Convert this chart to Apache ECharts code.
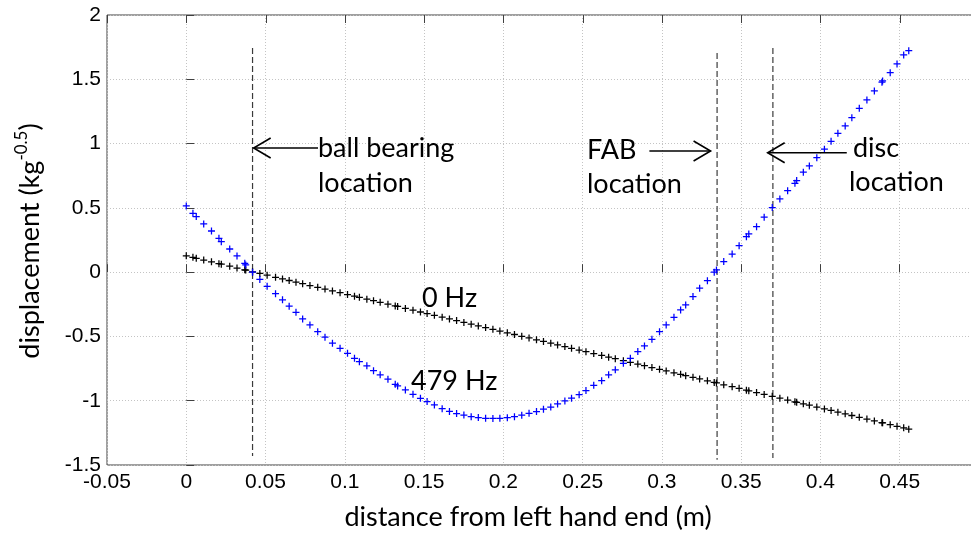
<!DOCTYPE html>
<html>
<head>
<meta charset="utf-8">
<script src="https://cdn.jsdelivr.net/npm/echarts@6/dist/echarts.min.js"></script>
<style>
html,body{margin:0;padding:0;background:#fff;overflow:hidden;}
#chart{width:971px;height:535px;}
</style>
</head>
<body>
<div id="chart"></div>
<script>
// node positions along the shaft (m)
const nodeX = [0, 0.0042, 0.0063, 0.011, 0.0159, 0.0206, 0.0221, 0.0274, 0.032, 0.0369, 0.0375, 0.0418, 0.0464, 0.051, 0.0563, 0.0607, 0.0649, 0.0692, 0.0734, 0.078, 0.0829, 0.0875, 0.0922, 0.097, 0.1017, 0.1061, 0.1092, 0.1139, 0.1181, 0.1223, 0.1272, 0.1318, 0.1333, 0.1382, 0.143, 0.1477, 0.1519, 0.1565, 0.1614, 0.166, 0.1705, 0.1751, 0.1797, 0.1842, 0.1888, 0.1934, 0.1978, 0.2025, 0.207, 0.2116, 0.2162, 0.2209, 0.2253, 0.2299, 0.2342, 0.2388, 0.243, 0.2478, 0.2521, 0.257, 0.262, 0.2664, 0.2706, 0.2757, 0.2801, 0.2848, 0.289, 0.2937, 0.2985, 0.3027, 0.3076, 0.3118, 0.315, 0.3196, 0.3238, 0.3287, 0.333, 0.3344, 0.339, 0.3443, 0.3487, 0.3533, 0.3548, 0.3597, 0.3645, 0.3696, 0.3744, 0.3793, 0.3839, 0.385, 0.3892, 0.393, 0.3977, 0.4025, 0.4067, 0.411, 0.4156, 0.4198, 0.4245, 0.4293, 0.434, 0.4388, 0.4392, 0.444, 0.4483, 0.4525, 0.4557];
// 479 Hz mode shape (blue)
const mode479 = [0.515, 0.458, 0.432, 0.375, 0.320, 0.263, 0.237, 0.180, 0.126, 0.069, 0.056, 0.0, -0.057, -0.110, -0.168, -0.215, -0.265, -0.312, -0.364, -0.411, -0.463, -0.506, -0.553, -0.592, -0.631, -0.670, -0.696, -0.729, -0.766, -0.799, -0.833, -0.872, -0.885, -0.916, -0.950, -0.981, -1.007, -1.033, -1.062, -1.083, -1.100, -1.112, -1.124, -1.131, -1.137, -1.138, -1.137, -1.132, -1.124, -1.113, -1.098, -1.084, -1.066, -1.049, -1.025, -1.002, -0.980, -0.953, -0.921, -0.880, -0.844, -0.799, -0.760, -0.709, -0.670, -0.618, -0.574, -0.522, -0.463, -0.411, -0.351, -0.294, -0.255, -0.190, -0.125, -0.066, 0.0, 0.017, 0.082, 0.141, 0.206, 0.276, 0.297, 0.354, 0.427, 0.502, 0.569, 0.634, 0.691, 0.712, 0.777, 0.826, 0.890, 0.956, 1.018, 1.080, 1.137, 1.201, 1.274, 1.339, 1.409, 1.477, 1.487, 1.551, 1.619, 1.689, 1.722];
// 0 Hz mode shape (black)
const mode0 = [0.127, 0.115, 0.108, 0.094, 0.080, 0.066, 0.062, 0.046, 0.032, 0.018, 0.016, 0.003, -0.010, -0.024, -0.040, -0.053, -0.065, -0.078, -0.090, -0.104, -0.118, -0.132, -0.146, -0.160, -0.174, -0.187, -0.196, -0.210, -0.222, -0.235, -0.249, -0.263, -0.267, -0.282, -0.296, -0.310, -0.322, -0.336, -0.350, -0.364, -0.377, -0.391, -0.405, -0.418, -0.431, -0.445, -0.458, -0.472, -0.485, -0.499, -0.512, -0.526, -0.539, -0.553, -0.566, -0.579, -0.592, -0.606, -0.619, -0.633, -0.648, -0.661, -0.673, -0.689, -0.702, -0.715, -0.728, -0.742, -0.756, -0.768, -0.783, -0.795, -0.805, -0.818, -0.831, -0.845, -0.858, -0.862, -0.876, -0.891, -0.904, -0.918, -0.923, -0.937, -0.951, -0.966, -0.980, -0.995, -1.009, -1.012, -1.024, -1.035, -1.049, -1.064, -1.076, -1.089, -1.102, -1.115, -1.129, -1.143, -1.157, -1.171, -1.172, -1.186, -1.199, -1.211, -1.221];
// component locations (vertical dashed lines)
const locX = [0.0418, 0.3348, 0.370];
const locTop = [1.743, 1.705, 1.743];
const locBottom = [-1.43, -1.46, -1.445];
// arrows: from x, to x, y
const arrowFrom = [0.0831, 0.2921, 0.4166];
const arrowTo = [0.0425, 0.3307, 0.3667];
const arrowY = [0.966, 0.942, 0.929];
// axis ticks
const xTicks = [-0.05, 0, 0.05, 0.1, 0.15, 0.2, 0.25, 0.3, 0.35, 0.4, 0.45];
const xMin = -0.05, xMax = 0.5, xStep = 0.05;
const yMin = -1.5, yMax = 2, yStep = 0.5;

const plus = 'path://M0,4.1H10V5.9H0Z M4.1,0H5.9V10H4.1Z';
const annFont = 'Lato, "Open Sans", sans-serif';
const tickFont = '"Liberation Sans", Arial, sans-serif';
const frame = '#404040';

const chart = echarts.init(document.getElementById('chart'), null, {renderer: 'canvas'});

const series = [];
locX.forEach((x, i) => {
  series.push({
    type: 'line',
    data: [[x, locTop[i]], [x, locBottom[i]]],
    symbol: 'none', silent: true, z: 1,
    lineStyle: {color: '#3a3a3a', width: 1.2, type: [6, 3]}
  });
});
series.push({
  type: 'line', name: '0 Hz', data: nodeX.map((x, i) => [x, mode0[i]]),
  lineStyle: {width: 0, opacity: 0}, symbol: plus, symbolSize: 7, showSymbol: true,
  itemStyle: {color: '#000000'}, z: 3
});
series.push({
  type: 'line', name: '479 Hz', data: nodeX.map((x, i) => [x, mode479[i]]),
  lineStyle: {width: 0, opacity: 0}, symbol: plus, symbolSize: 7, showSymbol: true,
  itemStyle: {color: '#0000ff'}, z: 4
});
series.push({
  type: 'custom', silent: true, z: 5,
  data: arrowFrom.map((f, i) => [f, arrowTo[i], arrowY[i]]),
  renderItem: function (params, api) {
    const p1 = api.coord([api.value(0), api.value(2)]);
    const p2 = api.coord([api.value(1), api.value(2)]);
    const d = p2[0] > p1[0] ? 1 : -1;
    return {
      type: 'group',
      children: [
        {type: 'line', shape: {x1: p1[0], y1: p1[1], x2: p2[0], y2: p2[1]}, style: {stroke: '#000', lineWidth: 1.6}},
        {type: 'polyline', shape: {points: [[p2[0] - d * 17, p2[1] - 10], [p2[0], p2[1]], [p2[0] - d * 17, p2[1] + 10]]}, style: {stroke: '#000', lineWidth: 1.6, fill: null}}
      ]
    };
  }
});
// inward ticks along the top edge of the box
series.push({
  type: 'custom', silent: true, z: 2,
  data: xTicks.map(v => [v, yMax]),
  renderItem: function (params, api) {
    const p = api.coord([api.value(0), api.value(1)]);
    const x = Math.round(p[0]) + 0.5;
    return {type: 'line', shape: {x1: x, y1: p[1], x2: x, y2: p[1] + 8}, style: {stroke: frame, lineWidth: 1}};
  }
});

function txt(text, x, y, size, align) {
  return {type: 'text', x: x, y: y, z: 10, style: {text: text, font: size + 'px ' + annFont, fill: '#000', textAlign: align || 'left', align: align || 'left', textVerticalAlign: 'middle', verticalAlign: 'middle'}};
}

const option = {
  animation: false,
  backgroundColor: '#ffffff',
  grid: {left: 107, top: 15, width: 872, height: 450, show: true, borderColor: frame, borderWidth: 1, backgroundColor: 'transparent', outerBoundsMode: 'none', containLabel: false},
  xAxis: {
    type: 'value', min: xMin, max: xMax, interval: xStep, position: 'bottom',
    axisLine: {show: false},
    axisTick: {show: true, inside: true, length: 8, lineStyle: {color: frame}},
    axisLabel: {color: '#000', fontFamily: tickFont, fontSize: 21, margin: 7,
      formatter: v => (Math.abs(v - xMax) < 1e-9 ? '' : String(+v.toFixed(2)))},
    splitLine: {show: true, lineStyle: {color: '#c4c4c4', type: [1, 2], width: 1}}
  },
  yAxis: {
    type: 'value', min: yMin, max: yMax, interval: yStep, position: 'left',
    axisLine: {show: false},
    axisTick: {show: true, inside: true, length: 8, lineStyle: {color: frame}},
    axisLabel: {color: '#000', fontFamily: tickFont, fontSize: 21, margin: 6,
      formatter: v => String(+v.toFixed(2))},
    splitLine: {show: true, lineStyle: {color: '#c4c4c4', type: [1, 2], width: 1}}
  },
  series: series,
  graphic: [
    txt('ball bearing', 318, 148, 27),
    txt('location', 318, 183, 27),
    txt('FAB', 587, 150, 27),
    txt('location', 587, 184, 27),
    txt('disc', 853, 148, 27),
    txt('location', 849, 182, 27),
    txt('0 Hz', 422, 298, 27),
    txt('479 Hz', 411, 381, 27),
    txt('distance from left hand end (m)', 528, 517, 27, 'center'),
    {type: 'text', x: 30, y: 241, rotation: Math.PI / 2, z: 10,
      style: {text: '{a|displacement (kg}{b|-0.5}{a|)}', textAlign: 'center', align: 'center', textVerticalAlign: 'middle', verticalAlign: 'middle',
        rich: {a: {fontSize: 27, fontFamily: annFont, fill: '#000', color: '#000', lineHeight: 34},
               b: {fontSize: 17, fontFamily: annFont, fill: '#000', color: '#000', verticalAlign: 'top', lineHeight: 34}}}}
  ]
};
chart.setOption(option);
</script>
</body>
</html>
